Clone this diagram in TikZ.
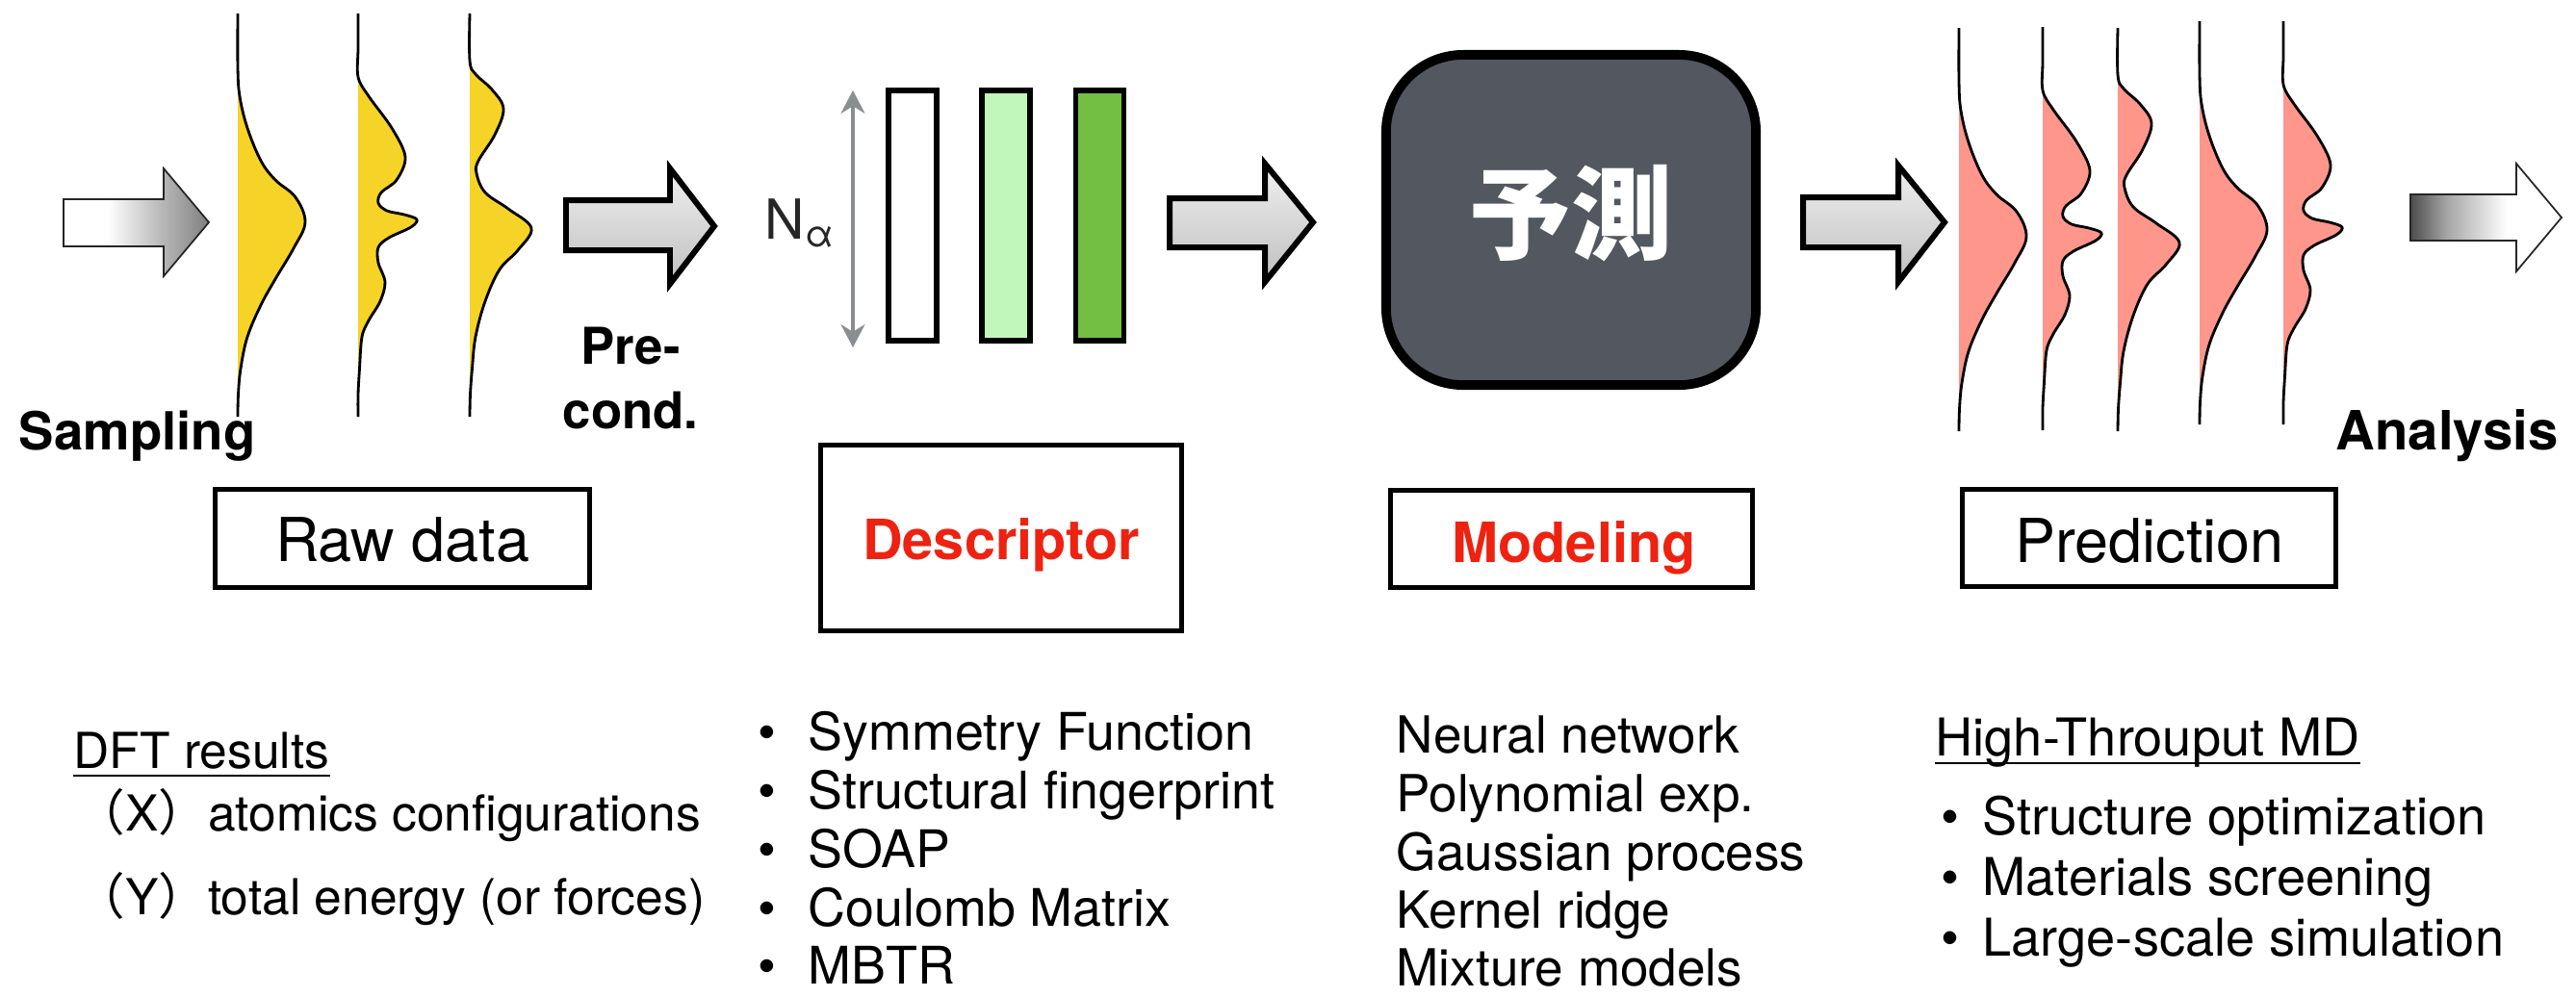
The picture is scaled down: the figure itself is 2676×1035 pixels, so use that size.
\documentclass[tikz,border=0pt]{standalone}
\usepackage{fontspec}
\setmainfont{TeX Gyre Heros}
\newfontfamily\cjk{Noto Sans CJK JP}
\usetikzlibrary{arrows.meta}
\definecolor{yel}{RGB}{245,211,39}
\definecolor{pinkfill}{RGB}{255,150,140}
\definecolor{dbox}{RGB}{83,87,95}
\definecolor{lgreen}{RGB}{194,247,188}
\definecolor{dgreen}{RGB}{114,191,68}
\definecolor{redtxt}{RGB}{238,34,17}
\definecolor{garrow}{RGB}{138,141,145}
\pgfdeclarehorizontalshading{leftshade}{100bp}{color(0bp)=(white); color(25bp)=(white); color(40bp)=(white); color(58bp)=(black!27); color(75bp)=(black!50); color(100bp)=(black!50)}
\pgfdeclarehorizontalshading{rightshade}{100bp}{color(0bp)=(black!70); color(25bp)=(black!70); color(37bp)=(black!35); color(57bp)=(white); color(100bp)=(white)}
\tikzset{
  curveline/.style={line width=0.8pt, black, line join=round},
  lbl/.style={inner sep=0pt, anchor=base west},
  clbl/.style={inner sep=0pt, anchor=base},
  boldA/.style={font=\bfseries\fontsize{15.5pt}{18pt}\selectfont},
  stagebox/.style={draw, line width=1.5pt, inner sep=0pt},
  bar/.style={draw, line width=1.6pt, inner sep=0pt, minimum width=0.50cm, minimum height=2.60cm},
  fatarrow/.style={top color=black!6, bottom color=black!25, draw=black, line width=1.7pt, line join=miter},
  thinarrow/.style={draw=black!85, line width=0.5pt},
  uline/.style={line width=0.7pt},
  bodyA/.style={font=\fontsize{14.65pt}{17pt}\selectfont},
  bodyB/.style={font=\fontsize{15.3pt}{17pt}\selectfont},
  bodyC/.style={font=\fontsize{15.1pt}{17pt}\selectfont},
  bodyD/.style={font=\fontsize{15.4pt}{17pt}\selectfont},
  boxtxt/.style={font=\fontsize{17.9pt}{20pt}\selectfont},
  redbold/.style={font=\bfseries\fontsize{16.4pt}{19pt}\selectfont, text=redtxt},
}
\newcommand\curveA[3]{%
\begin{scope}[shift={(#1,#2)}]
\fill[#3] plot[smooth,tension=0.6] coordinates {(0,14) (0,70) (2,100) (10,133) (24,167) (39,187) (60,205) (70,231) (58,258) (39,290) (24,317) (10,350) (3,383) (0.5,410) (0,433)} -- cycle;
\draw[curveline] plot[smooth,tension=0.6] coordinates {(0,14) (0,70) (2,100) (10,133) (24,167) (39,187) (60,205) (70,231) (58,258) (39,290) (24,317) (10,350) (3,383) (0.5,410) (0,433)};
\end{scope}}
\newcommand\curveB[3]{%
\begin{scope}[shift={(#1,#2)}]
\fill[#3] plot[smooth,tension=0.55] coordinates {(0,14) (0,50) (0,80) (11,100) (35,133) (49,163) (40,187) (24,200) (21,211) (30,219) (48,223) (61,228) (55,236) (32,247) (21,257) (21,273) (28,293) (23,313) (11,333) (4,350) (1.5,383) (0,410) (0,433)} -- cycle;
\draw[curveline] plot[smooth,tension=0.55] coordinates {(0,14) (0,50) (0,80) (11,100) (35,133) (49,163) (40,187) (24,200) (21,211) (30,219) (48,223) (61,228) (55,236) (32,247) (21,257) (21,273) (28,293) (23,313) (11,333) (4,350) (1.5,383) (0,410) (0,433)};
\end{scope}}
\newcommand\curveC[3]{%
\begin{scope}[shift={(#1,#2)}]
\fill[#3] plot[smooth,tension=0.6] coordinates {(0,14) (0,63) (6,77) (23,93) (35,113) (26,140) (9,167) (7,180) (16,200) (40,217) (64,237) (50,260) (31,280) (16,313) (6,350) (2.5,383) (0.5,410) (0,433)} -- cycle;
\draw[curveline] plot[smooth,tension=0.6] coordinates {(0,14) (0,63) (6,77) (23,93) (35,113) (26,140) (9,167) (7,180) (16,200) (40,217) (64,237) (50,260) (31,280) (16,313) (6,350) (2.5,383) (0.5,410) (0,433)};
\end{scope}}
\begin{document}
\begin{tikzpicture}[x=0.01cm, y=-0.01cm]
\useasboundingbox (0,0) rectangle (2676,1035);

% block arrows
\shadedraw[shading=leftshade, thinarrow] (66,207) -- (170,207) -- (170,175) -- (217,231) -- (170,287) -- (170,256) -- (66,256) -- cycle;
\shadedraw[fatarrow] (588,208) -- (696,208) -- (696,175) -- (742,235) -- (696,295) -- (696,260) -- (588,260) -- cycle;
\shadedraw[fatarrow] (1215,206) -- (1314,206) -- (1314,170) -- (1364,231) -- (1314,293) -- (1314,257) -- (1215,257) -- cycle;
\shadedraw[fatarrow] (1873,205) -- (1972,205) -- (1972,172) -- (2020,231) -- (1972,293) -- (1972,257) -- (1873,257) -- cycle;
\shadedraw[shading=rightshade, thinarrow] (2504,202) -- (2614,202) -- (2614,170) -- (2661,226) -- (2614,282) -- (2614,250) -- (2504,250) -- cycle;

% distributions
\curveA{247}{0}{yel}
\curveB{372}{0}{yel}
\curveC{488}{0}{yel}
\curveA{2035}{15}{pinkfill}
\curveB{2122}{14}{pinkfill}
\curveC{2200}{15}{pinkfill}
\curveA{2285}{8}{pinkfill}
\curveB{2372}{8}{pinkfill}

% labels top
\node[lbl, boldA] (sampling) at (19,467) {Sampling};
\node[lbl, font=\bfseries\fontsize{15pt}{18pt}\selectfont] (pre) at (603,378) {Pre-};
\node[lbl, font=\bfseries\fontsize{15pt}{18pt}\selectfont] (cond) at (584,445) {cond.};
\node[lbl, font=\bfseries\fontsize{16pt}{18pt}\selectfont] (analysis) at (2426,467) {Analysis};

% descriptor bars
\node[lbl, font=\fontsize{16.3pt}{18pt}\selectfont, text=black!85] (nalpha) at (794,248) {N\raisebox{-2.5pt}{\fontsize{11pt}{13pt}\selectfont α}};
\coordinate (natop) at (886,94);
\coordinate (nabot) at (886,361);
\draw[garrow, line width=0.9pt, {Stealth[length=6.8pt,width=7.1pt,inset=2.2pt]}-{Stealth[length=6.8pt,width=7.1pt,inset=2.2pt]}] (natop) -- (nabot);
\node[bar, fill=white] (bar1) at (948,224) {};
\node[bar, fill=lgreen] (bar2) at (1045,224) {};
\node[bar, fill=dgreen] (bar3) at (1142.5,224) {};

% model box
\node[draw, fill=dbox, line width=2.8pt, rounded corners=0.8cm, minimum width=3.84cm, minimum height=3.43cm, inner sep=0pt] (model) at (1632,228.5) {};
\node[clbl, font=\cjk\bfseries\fontsize{30pt}{33pt}\selectfont, text=white] (yosoku) at (1632,261) {予測};

% stage boxes
\node[stagebox, minimum width=3.89cm, minimum height=1.02cm] (raw) at (418,559.5) {};
\node[clbl, boxtxt] (rawtxt) at (418,583) {Raw data};
\node[stagebox, minimum width=3.75cm, minimum height=1.93cm] (desc) at (1040,559) {};
\node[clbl, redbold] (desctxt) at (1040,581) {Descriptor};
\node[stagebox, minimum width=3.76cm, minimum height=1.01cm] (modl) at (1632.5,560) {};
\node[clbl, redbold] (modltxt) at (1635,584) {Modeling};
\node[stagebox, minimum width=3.88cm, minimum height=1.01cm] (predb) at (2232.5,559) {};
\node[clbl, boxtxt] (predtxt) at (2233,584) {Prediction};

% DFT text
\node[lbl, bodyA] (dft) at (76,798) {DFT results};
\draw[uline] ([yshift=-2.3pt]dft.base west) -- ([yshift=-2.3pt]dft.base east);
\node[lbl, bodyA] (xline) at (78,863) {{\cjk （}X{\cjk ）}atomics configurations};
\node[lbl, bodyA] (yline) at (78,950) {{\cjk （}Y{\cjk ）}total energy (or forces)};

% descriptor list
\node[lbl, bodyB] (d1) at (787,779) {\hbox to 0.52cm{•\hss}Symmetry Function};
\node[lbl, bodyB] (d2) at (787,840) {\hbox to 0.52cm{•\hss}Structural fingerprint};
\node[lbl, bodyB] (d3) at (787,901) {\hbox to 0.52cm{•\hss}SOAP};
\node[lbl, bodyB] (d4) at (787,962) {\hbox to 0.52cm{•\hss}Coulomb Matrix};
\node[lbl, bodyB] (d5) at (787,1022) {\hbox to 0.52cm{•\hss}MBTR};

% modeling list
\node[lbl, bodyC] (m1) at (1450,782) {Neural network};
\node[lbl, bodyC] (m2) at (1450,843) {Polynomial exp.};
\node[lbl, bodyC] (m3) at (1450,904) {Gaussian process};
\node[lbl, bodyC] (m4) at (1450,964) {Kernel ridge};
\node[lbl, bodyC] (m5) at (1450,1024) {Mixture models};

% high throughput
\node[lbl, bodyD] (ht) at (2010,785) {High-Throuput MD};
\draw[uline] ([yshift=-2.3pt]ht.base west) -- ([yshift=-2.3pt]ht.base east);
\node[lbl, bodyD] (h1) at (2016,867) {\hbox to 0.43cm{•\hss}Structure optimization};
\node[lbl, bodyD] (h2) at (2016,930) {\hbox to 0.43cm{•\hss}Materials screening};
\node[lbl, bodyD] (h3) at (2016,993) {\hbox to 0.43cm{•\hss}Large-scale simulation};
\end{tikzpicture}
\end{document}
